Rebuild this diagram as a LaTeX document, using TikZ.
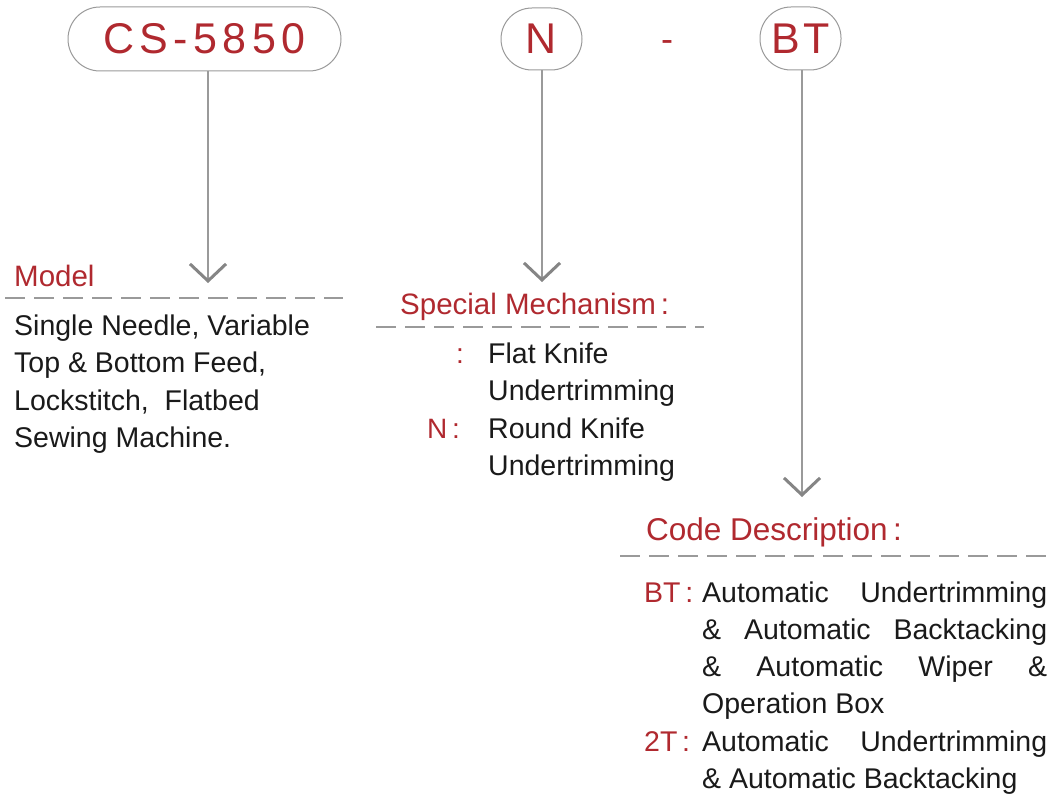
\documentclass[tikz,border=0pt]{standalone}
\usepackage{fontspec}
\setmainfont{Liberation Sans}
\usetikzlibrary{arrows.meta}
\definecolor{cred}{HTML}{B0292F}
\definecolor{cline}{HTML}{9A9A9A}
\definecolor{carrow}{HTML}{858585}
\definecolor{ctext}{HTML}{1A1A1A}
\tikzset{
  pill/.style={draw=cline, line width=1pt, inner sep=0pt, text=cred},
  conn/.style={draw=cline, line width=1.6pt, -{Straight Barb[length=17pt,width=36pt,line width=3pt,color=carrow]}},
  dashline/.style={draw=cline, line width=2.6pt, dash pattern=on 20pt off 9pt},
  redlab/.style={anchor=base west, inner sep=0pt, text=cred, font=\fontsize{29.5}{37}\selectfont},
  body/.style={anchor=base west, inner sep=0pt, text=ctext, font=\fontsize{28.5}{37}\selectfont},
}
\begin{document}
\begin{tikzpicture}[x=1pt,y=-1pt]
\useasboundingbox[fill=white] (0,0) rectangle (1056,805);
% top pills
\node[pill, minimum width=273pt, minimum height=64pt, rounded corners=32pt] (cs) at (204.5,39)
  {\fontsize{43}{43}\selectfont\makebox[202pt][s]{C\hfil S\hfil -\hfil 5\hfil 8\hfil 5\hfil 0}};
\node[pill, minimum width=81pt, minimum height=62pt, rounded corners=31pt] (n) at (541.5,39)
  {\fontsize{43}{43}\selectfont N};
\node[inner sep=0pt, text=cred, anchor=base] (dash) at (667,52) {\fontsize{36}{36}\selectfont -};
\node[pill, minimum width=81pt, minimum height=63pt, rounded corners=31pt] (bt) at (800.5,38.5)
  {\fontsize{43}{43}\selectfont B\hspace{4pt}T};
% arrows
\coordinate (tcs) at (208,283);
\coordinate (tn) at (542,282);
\coordinate (tbt) at (802,497);
\draw[conn] (cs.south -| tcs) -- (tcs);
\draw[conn] (n.south -| tn) -- (tn);
\draw[conn] (bt.south -| tbt) -- (tbt);
% Model block
\node[redlab] (model) at (14,286) {Model};
\coordinate (d1a) at (5,298);
\coordinate (d1b) at (343,298);
\draw[dashline] (d1a) -- (d1b);
\node[body] (m1) at (14,335) {Single Needle, Variable};
\node[body] (m2) at (14,372) {Top \& Bottom Feed,};
\node[body] (m3) at (14,410) {Lockstitch,\ \ Flatbed};
\node[body] (m4) at (14,447) {Sewing Machine.};
% Special mechanism block
\node[redlab] (spec) at (400,314) {Special Mechanism\,:};
\coordinate (d2a) at (376,327);
\coordinate (d2b) at (704,327);
\draw[dashline] (d2a) -- (d2b);
\node[redlab, font=\fontsize{28}{37}\selectfont] (k1) at (456,363) {:};
\node[body] (k1a) at (488,363) {Flat Knife};
\node[body] (k1b) at (488,400) {Undertrimming};
\node[redlab, font=\fontsize{28}{37}\selectfont] (k2) at (427,438) {N\,:};
\node[body] (k2a) at (488,438) {Round Knife};
\node[body] (k2b) at (488,475) {Undertrimming};
% Code description block
\node[redlab, font=\fontsize{31.5}{37}\selectfont] (code) at (646,540) {Code Description\,:};
\coordinate (d3a) at (620,556);
\coordinate (d3b) at (1052,556);
\draw[dashline] (d3a) -- (d3b);
\node[redlab, font=\fontsize{28.5}{37}\selectfont] (c1) at (644,602) {BT\,:};
\node[body] (c1a) at (702,602) {\makebox[345pt][s]{Automatic\hfil Undertrimming}};
\node[body] (c1b) at (702,639) {\makebox[345pt][s]{\&\hfil Automatic\hfil Backtacking}};
\node[body] (c1c) at (702,676) {\makebox[345pt][s]{\&\hfil Automatic\hfil Wiper\hfil \&}};
\node[body] (c1d) at (702,713) {Operation Box};
\node[redlab, font=\fontsize{28.5}{37}\selectfont] (c2) at (644,751) {2T\,:};
\node[body] (c2a) at (702,751) {\makebox[345pt][s]{Automatic\hfil Undertrimming}};
\node[body] (c2b) at (702,788) {\& Automatic Backtacking};
\end{tikzpicture}
\end{document}
